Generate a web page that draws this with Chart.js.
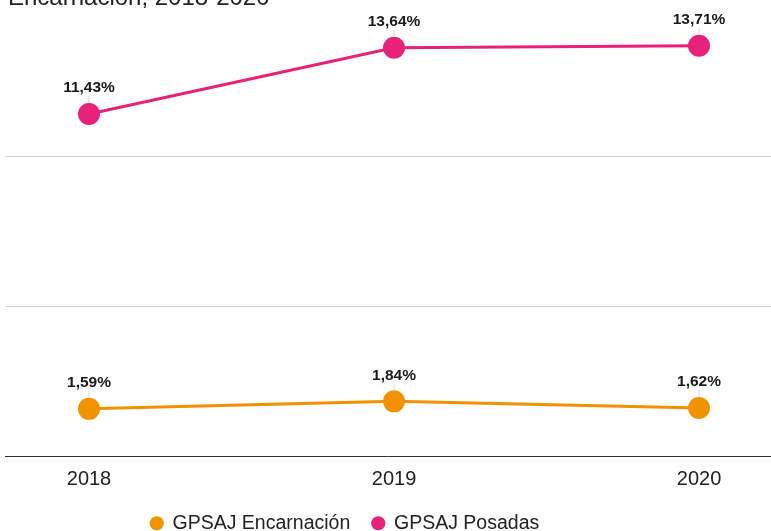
<!DOCTYPE html>
<html>
<head>
<meta charset="utf-8">
<script src="https://cdn.jsdelivr.net/npm/chart.js@4.4.1/dist/chart.umd.min.js"></script>
<style>
    html, body { margin: 0; padding: 0; background: #fff; }
    #wrap { width: 771px; height: 531px; position: relative; }
</style>
</head>
<body>
<div id="wrap"><canvas id="chart"></canvas></div>
<script>
// ===========================
// GPSAJ Posadas / Encarnación line chart
// ===========================

const years = [2018, 2019, 2020];
const encarnacion = [1.59, 1.84, 1.62];
const posadas = [11.43, 13.64, 13.71];
const seriesNames = ['GPSAJ Encarnación', 'GPSAJ Posadas'];
const yTicks = [0, 5, 10, 15];
const titleText = 'Encarnación, 2018-2020';

const FONT = 'Arial, "Liberation Sans", sans-serif';
const ORANGE = '#f39200';
const PINK = '#e8217a';

// 1,59% style labels
function fmt(v) {
    return v.toFixed(2).replace('.', ',') + '%';
}

// Title line that sits half cut off at the top
const titlePlugin = {
    id: 'cutTitle',
    afterDraw(chart) {
        const ctx = chart.ctx;
        ctx.save();
        ctx.font = '24px ' + FONT;
        ctx.fillStyle = '#222';
        ctx.textAlign = 'left';
        ctx.textBaseline = 'alphabetic';
        ctx.fillText(titleText, 8, 5);
        ctx.restore();
    }
};

// Bold value labels over each point, with a small leader line
const valueLabels = {
    id: 'valueLabels',
    afterDatasetsDraw(chart) {
        const ctx = chart.ctx;
        ctx.save();
        chart.data.datasets.forEach((ds, i) => {
            const meta = chart.getDatasetMeta(i);
            meta.data.forEach((pt, j) => {
                ctx.strokeStyle = '#d6d6d6';
                ctx.lineWidth = 1;
                ctx.beginPath();
                ctx.moveTo(pt.x, pt.y - 18);
                ctx.lineTo(pt.x, pt.y - 11);
                ctx.stroke();

                ctx.font = 'bold 15.5px ' + FONT;
                ctx.fillStyle = '#1a1a1a';
                ctx.textAlign = 'center';
                ctx.textBaseline = 'middle';
                ctx.fillText(fmt(ds.data[j].y), pt.x, pt.y - 26);
            });
        });
        ctx.restore();
    }
};

// Nudge the legend to where the original sits, and give the
// x tick labels room so they are not clipped
const legendNudge = {
    id: 'legendNudge',
    afterLayout(chart) {
        const lg = chart.legend;
        if (lg) {
            const dx = -43, dy = 12;
            lg.left += dx; lg.right += dx;
            lg.top += dy; lg.bottom += dy;
        }
        chart.scales.x.bottom += 20;
    }
};

function initChart() {
    const ctx = document.getElementById('chart');

    new Chart(ctx, {
        type: 'line',
        data: {
            datasets: [{
                label: seriesNames[0],
                data: years.map((y, i) => ({ x: y, y: encarnacion[i] })),
                borderColor: ORANGE,
                backgroundColor: ORANGE,
                borderWidth: 3,
                pointRadius: 11,
                pointHoverRadius: 11,
                pointBorderWidth: 0,
                tension: 0
            }, {
                label: seriesNames[1],
                data: years.map((y, i) => ({ x: y, y: posadas[i] })),
                borderColor: PINK,
                backgroundColor: PINK,
                borderWidth: 3,
                pointRadius: 11,
                pointHoverRadius: 11,
                pointBorderWidth: 0,
                tension: 0
            }]
        },
        options: {
            responsive: true,
            maintainAspectRatio: false,
            animation: false,
            layout: {
                autoPadding: false,
                padding: { top: 7, left: 5, right: 0, bottom: 0 }
            },
            plugins: {
                title: { display: false },
                tooltip: { enabled: false },
                legend: {
                    display: true,
                    position: 'bottom',
                    labels: {
                        usePointStyle: true,
                        pointStyle: 'circle',
                        boxWidth: 12,
                        boxHeight: 10,
                        padding: 22,
                        color: '#222',
                        font: { family: FONT, size: 19.5 }
                    }
                }
            },
            scales: {
                x: {
                    type: 'linear',
                    min: 2017.7246,
                    max: 2020.236,
                    afterBuildTicks: scale => {
                        scale.ticks = years.map(v => ({ value: v }));
                    },
                    afterFit: scale => { scale.height = 23; },
                    grid: { display: false, drawTicks: false },
                    border: { display: true, color: '#333', width: 1 },
                    ticks: {
                        padding: 11,
                        color: '#222',
                        font: { family: FONT, size: 20 },
                        callback: v => String(v)
                    }
                },
                y: {
                    min: 0,
                    max: 15,
                    afterBuildTicks: scale => {
                        scale.ticks = yTicks.map(v => ({ value: v }));
                    },
                    afterFit: scale => { scale.width = 0; },
                    grid: {
                        drawTicks: false,
                        color: c => (c.tick.value === 5 || c.tick.value === 10) ? '#d3d3d3' : 'rgba(0,0,0,0)'
                    },
                    border: { display: false },
                    ticks: { display: false }
                }
            }
        },
        plugins: [titlePlugin, valueLabels, legendNudge]
    });
}

document.addEventListener('DOMContentLoaded', initChart);
</script>
</body>
</html>
